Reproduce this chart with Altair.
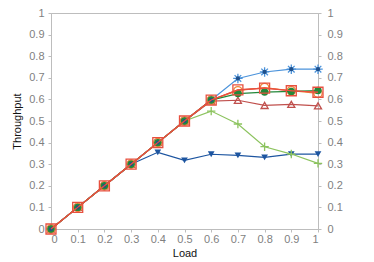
import altair as alt
import pandas as pd

load = [0, 0.1, 0.2, 0.3, 0.4, 0.5, 0.6, 0.7, 0.8, 0.9, 1.0]

star = [0, 0.1, 0.2, 0.3, 0.4, 0.5, 0.597, 0.697, 0.727, 0.740, 0.740]
tri_down = [0, 0.1, 0.2, 0.3, 0.355, 0.318, 0.346, 0.341, 0.332, 0.347, 0.347]
plus = [0, 0.1, 0.2, 0.3, 0.4, 0.5, 0.546, 0.486, 0.381, 0.347, 0.304]
tri_up = [0, 0.1, 0.2, 0.3, 0.4, 0.5, 0.592, 0.596, 0.572, 0.577, 0.570]
orange = [0, 0.1, 0.2, 0.3, 0.4, 0.5, 0.597, 0.640, 0.655, 0.640, 0.628]
green = [0, 0.1, 0.2, 0.3, 0.4, 0.5, 0.597, 0.627, 0.634, 0.637, 0.641]
square = [0, 0.1, 0.2, 0.3, 0.4, 0.5, 0.597, 0.644, 0.652, 0.640, 0.633]
dot = [0, 0.1, 0.2, 0.3, 0.4, 0.5, 0.597, 0.697, 0.727, 0.740, 0.740]
ticks = [0, 0.1, 0.2, 0.3, 0.4, 0.5, 0.6, 0.7, 0.8, 0.9, 1.0]

ASTER = "M-1,0L1,0M0,-1L0,1M-0.7,-0.7L0.7,0.7M-0.7,0.7L0.7,-0.7"
PLUS = "M-1,0L1,0M0,-1L0,1"

# name, values, color, shape, filled, size, draw_line
series = [
    ("star", star, "#4b93db", ASTER, False, 90, True),
    ("tri_down", tri_down, "#1d55a0", "triangle-down", True, 45, True),
    ("plus", plus, "#8cc35e", PLUS, False, 70, True),
    ("tri_up", tri_up, "#c0504d", "triangle-up", False, 50, True),
    ("orange", orange, "#f0883a", "circle", False, 70, True),
    ("green", green, "#23883a", "circle", True, 55, True),
    ("square", square, "#e8503f", "square", False, 100, True),
    ("dot", dot, "#1f4f8a", "circle", True, 18, False),
]

x_scale = alt.Scale(domain=[0, 1], nice=False)
y_scale = alt.Scale(domain=[0, 1], nice=False)

xenc = alt.X("Load:Q", scale=x_scale, title="Load",
             axis=alt.Axis(values=ticks, format="~g", orient="bottom",
                           labelPadding=1, titlePadding=3))
yenc = alt.Y("Throughput:Q", scale=y_scale, title="Throughput",
             axis=alt.Axis(values=ticks, format="~g", orient="left",
                           titlePadding=6))

layers = []
for name, ys, color, shape, filled, size, draw_line in series:
    df = pd.DataFrame({"Load": load, "Throughput": ys})
    base = alt.Chart(df).encode(x=xenc, y=yenc)
    if draw_line:
        layers.append(base.mark_line(color=color, strokeWidth=1.2))
    layers.append(base.mark_point(
        shape=shape, filled=filled, color=color, size=size,
        strokeWidth=1.3, opacity=1,
    ))

sq_df = pd.DataFrame({"Load": load, "Throughput": square})
layers.append(
    alt.Chart(sq_df).mark_line(color="#e8503f", strokeWidth=1.2).encode(x=xenc, y=yenc)
)

inner = alt.layer(*layers)

axis_df = pd.DataFrame({"Load": [0, 1], "T2": [0, 1]})
axes_r = alt.Chart(axis_df).mark_point(opacity=0).encode(
    x=xenc,
    y=alt.Y("T2:Q", scale=y_scale, title=None,
            axis=alt.Axis(values=ticks, format="~g", orient="right",
                          labelPadding=6)),
)

chart = alt.layer(inner, axes_r).resolve_scale(
    y="independent"
).properties(
    width=267, height=216,
    autosize=alt.AutoSizeParams(type="none"),
    padding={"left": 43, "top": 5, "right": 48, "bottom": 34},
).configure_axis(
    labelFont="Liberation Sans", labelFontSize=11, labelColor="#7f7f7f",
    titleFont="Liberation Sans", titleFontSize=11, titleColor="#111111",
    titleFontWeight="normal",
    domainColor="#bdbdbd", tickColor="#bdbdbd", tickSize=3,
    labelPadding=4, grid=False,
).configure_view(stroke="#bdbdbd", strokeWidth=1)

chart.save("out.html", embed_options={"renderer": "svg", "actions": False})
